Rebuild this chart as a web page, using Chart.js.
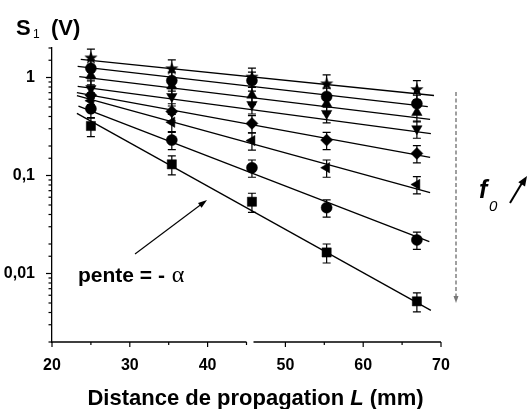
<!DOCTYPE html>
<html>
<head>
<meta charset="utf-8">
<script src="https://cdn.jsdelivr.net/npm/chart.js@4.4.0/dist/chart.umd.min.js"></script>
<style>
    html, body { margin: 0; padding: 0; background: #fff; }
    #wrap { width: 527px; height: 409px; position: relative; }
</style>
</head>
<body>
<div id="wrap"><canvas id="chart"></canvas></div>
<script>
// distances de propagation (mm)
const distances = [25, 35.4, 45.7, 55.3, 66.9];

// S1 (V) pour chaque frequence, du haut vers le bas
const sStar     = [1.60, 1.24, 1.02, 0.87, 0.76];
const sCircleA  = [1.24, 0.93, 0.93, 0.64, 0.54];
const sTriUp    = [1.05, 0.82, 0.66, 0.54, 0.44];
const sTriDown  = [0.77, 0.64, 0.53, 0.43, 0.30];
const sDiamond  = [0.66, 0.45, 0.34, 0.23, 0.168];
const sTriLeft  = [0.58, 0.35, 0.227, 0.12, 0.081];
const sCircleB  = [0.48, 0.23, 0.12, 0.047, 0.022];
const sSquare   = [0.32, 0.13, 0.054, 0.0164, 0.0052];

// droites d'ajustement (debut / fin)
const fitStartX = [23.7, 23.3, 23.5, 23.3, 23.2, 23.2, 23.4, 23.2];
const fitEndX   = [69.1, 68.3, 68.6, 68.7, 68.6, 68.6, 68.5, 68.7];
const fitStart  = [1.53, 1.30, 1.02, 0.81, 0.70, 0.655, 0.51, 0.43];
const fitEnd    = [0.655, 0.505, 0.373, 0.268, 0.153, 0.067, 0.0212, 0.0042];

// erreur relative
const errFrac = [0.22, 0.22, 0.2, 0.2, 0.2, 0.2, 0.2, 0.22];

// ticks
const xTicks = [20, 30, 40, 50, 60, 70];
const yMajorLabels = { 1: '1', 0.1: '0,1', 0.01: '0,01' };

const FONT = '"Liberation Sans", Arial, Helvetica, sans-serif';

function makeStar(outer, inner) {
    const c = document.createElement('canvas');
    const s = Math.ceil(outer * 2 + 2);
    c.width = s; c.height = s;
    const ctx = c.getContext('2d');
    ctx.fillStyle = '#000';
    ctx.beginPath();
    for (let i = 0; i < 10; i++) {
        const r = i % 2 === 0 ? outer : inner;
        const a = -Math.PI / 2 + i * Math.PI / 5;
        const px = s / 2 + r * Math.cos(a);
        const py = s / 2 + r * Math.sin(a) + 0.5;
        if (i === 0) ctx.moveTo(px, py); else ctx.lineTo(px, py);
    }
    ctx.closePath();
    ctx.fill();
    return c;
}

const series = [
    { values: sStar,    style: makeStar(7, 2.9), radius: 7, rotation: 0 },
    { values: sCircleA, style: 'circle',   radius: 5.5, rotation: 0 },
    { values: sTriUp,   style: 'triangle', radius: 6,   rotation: 0 },
    { values: sTriDown, style: 'triangle', radius: 6,   rotation: 180 },
    { values: sDiamond, style: 'rectRot',  radius: 6,   rotation: 0 },
    { values: sTriLeft, style: 'triangle', radius: 6,   rotation: 270 },
    { values: sCircleB, style: 'circle',   radius: 5.5, rotation: 0 },
    { values: sSquare,  style: 'rect',     radius: 6.5, rotation: 0 }
];

const datasets = [];
series.forEach((s, i) => {
    datasets.push({
        type: 'line',
        data: [{ x: fitStartX[i], y: fitStart[i] }, { x: fitEndX[i], y: fitEnd[i] }],
        borderColor: '#000',
        borderWidth: 1.3,
        pointRadius: 0,
        fill: false,
        clip: false,
        order: 2
    });
    datasets.push({
        type: 'scatter',
        data: distances.map((d, j) => ({ x: d, y: s.values[j] })),
        pointStyle: s.style,
        pointRadius: s.radius,
        pointRotation: s.rotation,
        backgroundColor: '#000',
        borderColor: '#000',
        borderWidth: 0.5,
        showLine: false,
        clip: false,
        order: 1
    });
});

function arrowHead(ctx, x1, y1, x2, y2, len, half) {
    const a = Math.atan2(y2 - y1, x2 - x1);
    ctx.beginPath();
    ctx.moveTo(x2, y2);
    ctx.lineTo(x2 - len * Math.cos(a) + half * Math.sin(a), y2 - len * Math.sin(a) - half * Math.cos(a));
    ctx.lineTo(x2 - len * Math.cos(a) - half * Math.sin(a), y2 - len * Math.sin(a) + half * Math.cos(a));
    ctx.closePath();
    ctx.fill();
}

const errorBars = {
    id: 'errorBars',
    beforeDatasetsDraw(chart) {
        const ctx = chart.ctx, xs = chart.scales.x, ys = chart.scales.y;
        ctx.save();
        ctx.strokeStyle = '#000';
        ctx.lineWidth = 1.2;
        series.forEach((s, i) => {
            s.values.forEach((v, j) => {
                const px = xs.getPixelForValue(distances[j]);
                const top = ys.getPixelForValue(v * (1 + errFrac[i]));
                const bot = ys.getPixelForValue(v * (1 - errFrac[i]));
                ctx.beginPath();
                ctx.moveTo(px, top); ctx.lineTo(px, bot);
                ctx.moveTo(px - 4, top); ctx.lineTo(px + 4, top);
                ctx.moveTo(px - 4, bot); ctx.lineTo(px + 4, bot);
                ctx.stroke();
            });
        });
        ctx.restore();
    }
};

const decor = {
    id: 'decor',
    afterDraw(chart) {
        const ctx = chart.ctx, xs = chart.scales.x, ys = chart.scales.y;
        const area = chart.chartArea;
        ctx.save();
        ctx.strokeStyle = '#000';
        ctx.fillStyle = '#000';
        ctx.lineWidth = 1.3;

        // axe x avec coupure
        const b1 = xs.getPixelForValue(45.0), b2 = xs.getPixelForValue(45.9);
        ctx.beginPath();
        ctx.moveTo(area.left, area.bottom); ctx.lineTo(b1, area.bottom);
        ctx.moveTo(b2, area.bottom); ctx.lineTo(area.right, area.bottom);
        ctx.stroke();

        // graduations x
        ctx.lineWidth = 1.2;
        xs.ticks.forEach((t, k) => {
            const px = xs.getPixelForValue(t.value);
            ctx.beginPath();
            ctx.moveTo(px, area.bottom); ctx.lineTo(px, area.bottom + 5);
            ctx.stroke();
            if (k < xs.ticks.length - 1) {
                const pm = xs.getPixelForValue((t.value + xs.ticks[k + 1].value) / 2);
                ctx.beginPath();
                ctx.moveTo(pm, area.bottom); ctx.lineTo(pm, area.bottom + 3);
                ctx.stroke();
            }
        });

        // graduations y
        ys.ticks.forEach(t => {
            const py = ys.getPixelForValue(t.value);
            const lg = Math.log10(t.value);
            const major = Math.abs(lg - Math.round(lg)) < 1e-6;
            ctx.beginPath();
            ctx.moveTo(area.left - (major ? 6 : 3.5), py); ctx.lineTo(area.left, py);
            ctx.stroke();
        });

        // titre axe y
        ctx.textBaseline = 'alphabetic';
        ctx.textAlign = 'left';
        ctx.font = 'bold 22px ' + FONT;
        ctx.fillText('S', 16, 35);
        ctx.font = '12px ' + FONT;
        ctx.fillText('1', 33, 38);
        ctx.font = 'bold 22px ' + FONT;
        ctx.fillText('(V)', 51, 35);

        // titre axe x
        const parts = [
            { t: 'Distance de propagation ', f: 'bold 22px ' + FONT },
            { t: 'L', f: 'italic bold 22px ' + FONT },
            { t: ' (mm)', f: 'bold 22px ' + FONT }
        ];
        let total = 0;
        parts.forEach(p => { ctx.font = p.f; p.w = ctx.measureText(p.t).width; total += p.w; });
        let x0 = 255.5 - total / 2;
        parts.forEach(p => { ctx.font = p.f; ctx.fillText(p.t, x0, 405); x0 += p.w; });

        // pente = - alpha
        ctx.font = 'bold 21px ' + FONT;
        ctx.fillText('pente = - ', 78, 282);
        const wp = ctx.measureText('pente = - ').width;
        ctx.font = '24px "Liberation Serif", "Times New Roman", serif';
        ctx.fillText('\u03B1', 78 + wp + 1, 282);

        ctx.lineWidth = 1.1;
        ctx.beginPath();
        ctx.moveTo(135, 254); ctx.lineTo(203, 203);
        ctx.stroke();
        arrowHead(ctx, 135, 254, 207, 200, 9, 3);

        // fleche pointillee
        ctx.strokeStyle = '#777';
        ctx.fillStyle = '#777';
        ctx.lineWidth = 1.4;
        ctx.setLineDash([4, 2.5]);
        ctx.beginPath();
        ctx.moveTo(456, 92); ctx.lineTo(456, 297);
        ctx.stroke();
        ctx.setLineDash([]);
        arrowHead(ctx, 456, 250, 456, 303, 7, 2.5);

        // f0
        ctx.fillStyle = '#000';
        ctx.strokeStyle = '#000';
        ctx.font = 'italic bold 25px ' + FONT;
        ctx.fillText('f', 479, 198);
        ctx.font = 'italic 15px ' + FONT;
        ctx.fillText('0', 489, 211);
        ctx.lineWidth = 2;
        ctx.beginPath();
        ctx.moveTo(510, 203); ctx.lineTo(522, 183);
        ctx.stroke();
        arrowHead(ctx, 510, 203, 527, 176, 10, 4);

        ctx.restore();
    }
};

new Chart(document.getElementById('chart').getContext('2d'), {
    data: { datasets: datasets },
    options: {
        responsive: true,
        maintainAspectRatio: false,
        animation: false,
        layout: { padding: { top: 48, right: 86, left: 0, bottom: 0 } },
        plugins: {
            legend: { display: false },
            tooltip: { enabled: false },
            title: { display: false }
        },
        scales: {
            x: {
                type: 'linear',
                min: 20,
                max: 70,
                afterFit: (scale) => { scale.height = 67; },
                afterBuildTicks: (scale) => { scale.ticks = xTicks.map(v => ({ value: v })); },
                grid: { display: false },
                border: { display: false },
                ticks: {
                    padding: 6,
                    color: '#000',
                    font: { family: FONT, size: 16, weight: 'bold' },
                    maxRotation: 0
                }
            },
            y: {
                type: 'logarithmic',
                min: 0.002,
                max: 2,
                afterFit: (scale) => { scale.width = 52; },
                grid: { display: false },
                border: { display: true, color: '#000', width: 1.3 },
                ticks: {
                    autoSkip: false,
                    padding: 9,
                    color: '#000',
                    font: { family: FONT, size: 16, weight: 'bold' },
                    callback: (v) => yMajorLabels[v] !== undefined ? yMajorLabels[v] : ''
                }
            }
        }
    },
    plugins: [errorBars, decor]
});
</script>
</body>
</html>
